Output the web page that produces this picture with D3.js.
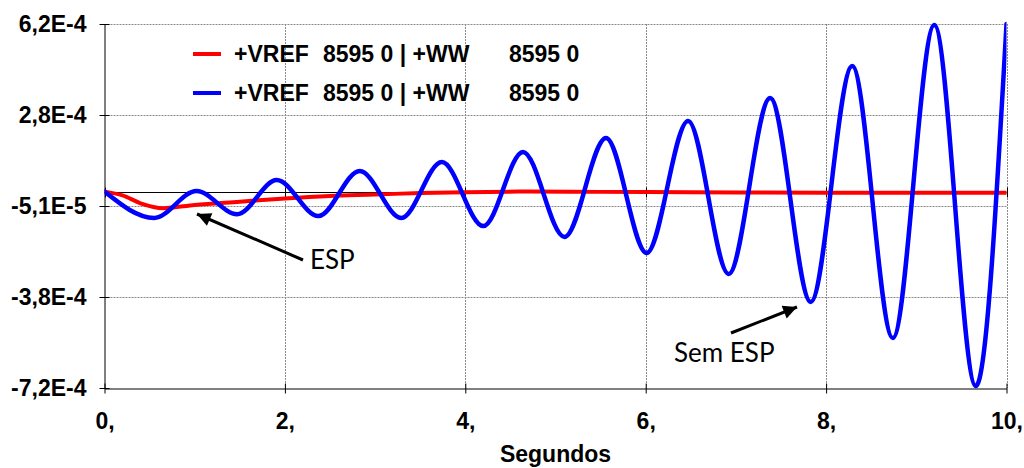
<!DOCTYPE html>
<html>
<head>
<meta charset="utf-8">
<script src="https://cdn.jsdelivr.net/npm/d3@7"></script>
<style>
  html, body { margin: 0; padding: 0; background: #fff; }
  svg { display: block; }
</style>
</head>
<body>
<svg id="chart" width="1024" height="468"></svg>
<script>
// Time axis (seconds)
const xTickValues = [0, 2, 4, 6, 8, 10];
const xTickLabels = ["0,", "2,", "4,", "6,", "8,", "10,"];

// Vertical axis ticks
const yTickValues = [6.2e-4, 2.85e-4, -0.5e-4, -3.85e-4, -7.2e-4];
const yTickLabels = ["6,2E-4", "2,8E-4", "-5,1E-5", "-3,8E-4", "-7,2E-4"];

// With ESP (red): time [s]
const espTime = [0, 0.2, 0.4, 0.65, 1.0, 1.5, 2.0, 2.5, 3.0, 3.5, 4.0, 4.7, 5.5, 6.5, 8.0, 10.0];
// With ESP (red): response (x 1e-4)
const espValue = [0.03, -0.11, -0.40, -0.58, -0.46, -0.34, -0.22, -0.13, -0.08, -0.02, 0.01, 0.03, 0.02, 0.01, -0.01, -0.01];

// Without ESP (blue): time of start, successive extrema, end [s]
const noEspTime = [0, 0.55, 1.02, 1.47, 1.91, 2.37, 2.83, 3.29, 3.74, 4.20, 4.64, 5.10, 5.56,
  6.01, 6.47, 6.92, 7.38, 7.83, 8.29, 8.74, 9.20, 9.66, 10.0];
// Without ESP (blue): response (x 1e-4)
const noEspValue = [0.03, -0.94, 0.05, -0.80, 0.46, -0.87, 0.79, -0.94, 1.12, -1.24, 1.49, -1.64, 2.00,
  -2.23, 2.63, -3.00, 3.48, -4.03, 4.65, -5.36, 6.16, -7.13, 6.20];

const legendLabel = ["+VREF", "8595 0 | +WW", "8595 0"];
const seriesColors = ["#ff0000", "#0000ff"];

const boldFont = "'Liberation Sans', Arial, sans-serif";
const noteFont = "Lato, 'Open Sans', sans-serif";

const svg = d3.select("#chart");
const plotLeft = 104.5, plotRight = 1006.5, plotTop = 24, plotBottom = 388;

const x = d3.scaleLinear().domain([0, 10]).range([plotLeft, plotRight]);
const y = d3.scaleLinear().domain([-7.2e-4, 6.2e-4]).range([plotBottom, plotTop]);

const defs = svg.append("defs");
defs.append("clipPath").attr("id", "plotClip")
  .append("rect").attr("x", plotLeft).attr("y", plotTop - 3)
  .attr("width", plotRight - plotLeft).attr("height", plotBottom - plotTop + 6);

// Dotted grid
const grid = svg.append("g");
grid.selectAll("line.h").data(yTickValues.slice(0, 4)).join("line")
  .attr("x1", plotLeft).attr("x2", plotRight)
  .attr("y1", d => Math.round(y(d)) + 0.5).attr("y2", d => Math.round(y(d)) + 0.5)
  .attr("stroke", "#8a8a8a").attr("stroke-width", 1).attr("stroke-dasharray", "2,1");
grid.selectAll("line.v").data(xTickValues.slice(1)).join("line")
  .attr("x1", d => Math.round(x(d)) + 0.5).attr("x2", d => Math.round(x(d)) + 0.5)
  .attr("y1", plotTop).attr("y2", plotBottom)
  .attr("stroke", "#8a8a8a").attr("stroke-width", 1).attr("stroke-dasharray", "2,1");

// Zero line with cross ticks
const zeroY = Math.round(y(0)) + 0.5;
svg.append("line").attr("x1", plotLeft).attr("x2", plotRight).attr("y1", zeroY).attr("y2", zeroY)
  .attr("stroke", "#000").attr("stroke-width", 1);
svg.append("g").selectAll("line").data(xTickValues).join("line")
  .attr("x1", d => Math.round(x(d)) + 0.5).attr("x2", d => Math.round(x(d)) + 0.5)
  .attr("y1", zeroY - 5).attr("y2", zeroY + 5).attr("stroke", "#000");

// Axes
const xAxis = d3.axisBottom(x).tickValues(xTickValues).tickSizeInner(5).tickSizeOuter(0)
  .tickFormat((d, i) => xTickLabels[i]).tickPadding(19);
const gx = svg.append("g").attr("transform", `translate(0,${plotBottom + 0.5})`).call(xAxis);
gx.select(".domain").attr("stroke", "#000");
gx.selectAll(".tick line").attr("y1", -5).attr("stroke", "#000");
gx.selectAll(".tick text").style("font-size", "23px").style("font-weight", "bold")
  .style("font-family", boldFont).attr("fill", "#000");

const yAxis = d3.axisLeft(y).tickValues(yTickValues).tickSizeInner(5).tickSizeOuter(0)
  .tickFormat((d, i) => yTickLabels[i]).tickPadding(13);
const gy = svg.append("g").attr("transform", `translate(${plotLeft},0)`).call(yAxis);
gy.select(".domain").attr("stroke", "#000");
gy.selectAll(".tick line").attr("x1", 5).attr("stroke", "#000");
gy.selectAll(".tick text").style("font-size", "23px").style("font-weight", "bold")
  .style("font-family", boldFont).attr("fill", "#000");

// Axis title
svg.append("text").attr("x", (plotLeft + plotRight) / 2).attr("y", 462).attr("text-anchor", "middle")
  .style("font-size", "23px").style("font-weight", "bold").style("font-family", boldFont)
  .text("Segundos");

// Series
const line = d3.line().x(d => x(d[0])).y(d => y(d[1] * 1e-4)).curve(d3.curveMonotoneX);
const plot = svg.append("g").attr("clip-path", "url(#plotClip)");
plot.append("path").datum(d3.zip(espTime, espValue)).attr("d", line)
  .attr("fill", "none").attr("stroke", seriesColors[0]).attr("stroke-width", 4)
  .attr("stroke-linejoin", "round").attr("stroke-linecap", "round");
plot.append("path").datum(d3.zip(noEspTime, noEspValue)).attr("d", line)
  .attr("fill", "none").attr("stroke", seriesColors[1]).attr("stroke-width", 4.5)
  .attr("stroke-linejoin", "round").attr("stroke-linecap", "round");

// Legend
const legendRows = [54, 93];
const legend = svg.append("g");
legendRows.forEach((ly, i) => {
  legend.append("line").attr("x1", 193).attr("x2", 221).attr("y1", ly).attr("y2", ly)
    .attr("stroke", seriesColors[i]).attr("stroke-width", 4);
  const t = legend.append("text").attr("y", ly + 8)
    .style("font-size", "23px").style("font-weight", "bold").style("font-family", boldFont);
  t.append("tspan").attr("x", 234).text(legendLabel[0]);
  t.append("tspan").attr("x", 323).text(legendLabel[1]);
  t.append("tspan").attr("x", 509).text(legendLabel[2]);
});

// Annotations with arrows
defs.append("marker").attr("id", "arrowHead").attr("viewBox", "0 0 10 10")
  .attr("refX", 10).attr("refY", 5).attr("markerWidth", 5.5).attr("markerHeight", 4.6)
  .attr("markerUnits", "strokeWidth").attr("orient", "auto")
  .append("path").attr("d", "M0,0 L10,5 L0,10 Z").attr("fill", "#000");

const notes = [
  { text: "ESP", tx: 310, ty: 269, from: [303, 260], to: [197, 214] },
  { text: "Sem ESP", tx: 674, ty: 362, from: [731, 333], to: [797, 307] }
];
notes.forEach(n => {
  svg.append("line").attr("x1", n.from[0]).attr("y1", n.from[1]).attr("x2", n.to[0]).attr("y2", n.to[1])
    .attr("stroke", "#000").attr("stroke-width", 3).attr("marker-end", "url(#arrowHead)");
  svg.append("text").attr("x", n.tx).attr("y", n.ty)
    .style("font-size", "26px").style("font-family", noteFont).attr("fill", "#000").text(n.text);
});
</script>
</body>
</html>
